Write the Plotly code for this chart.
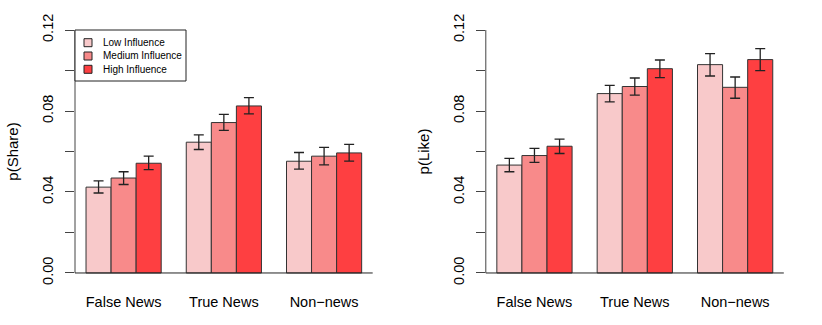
import plotly.graph_objects as go

W, H = 822, 325

categories = ["False News", "True News", "Non\u2212news"]
series_names = ["Low Influence", "Medium Influence", "High Influence"]
series_colors = ["#F8C9CA", "#F88A8A", "#FE3F41"]

# p(Share)
share_values = {
    "Low Influence": [0.0424, 0.0646, 0.0552],
    "Medium Influence": [0.0469, 0.0743, 0.0577],
    "High Influence": [0.0542, 0.0825, 0.0593],
}
share_upper = {
    "Low Influence": [0.0455, 0.0682, 0.0595],
    "Medium Influence": [0.0500, 0.0783, 0.0620],
    "High Influence": [0.0577, 0.0866, 0.0635],
}
share_lower = {
    "Low Influence": [0.0395, 0.0610, 0.0513],
    "Medium Influence": [0.0437, 0.0704, 0.0534],
    "High Influence": [0.0510, 0.0786, 0.0552],
}

# p(Like)
like_values = {
    "Low Influence": [0.0533, 0.0886, 0.1029],
    "Medium Influence": [0.0580, 0.0921, 0.0917],
    "High Influence": [0.0626, 0.1009, 0.1054],
}
like_upper = {
    "Low Influence": [0.0566, 0.0927, 0.1083],
    "Medium Influence": [0.0615, 0.0963, 0.0968],
    "High Influence": [0.0661, 0.1052, 0.1108],
}
like_lower = {
    "Low Influence": [0.0500, 0.0845, 0.0973],
    "Medium Influence": [0.0546, 0.0878, 0.0863],
    "High Influence": [0.0590, 0.0965, 0.0999],
}

y_tickvals = [0.0, 0.02, 0.04, 0.06, 0.08, 0.10, 0.12]
y_ticktext = ["0.00", "", "0.04", "", "0.08", "", "0.12"]

FONT = "Liberation Sans, Arial, Helvetica, sans-serif"


def px_x(p):
    return p / W


def px_y(p):
    return 1 - p / H


fig = go.Figure()

panels = [
    ("x", "y", share_values, share_upper, share_lower),
    ("x2", "y2", like_values, like_upper, like_lower),
]
for xa, ya, vals, up, lo in panels:
    for name, color in zip(series_names, series_colors):
        v = vals[name]
        fig.add_trace(go.Bar(
            x=categories, y=v, name=name, xaxis=xa, yaxis=ya,
            marker=dict(color=color, line=dict(color="#333333", width=1)),
            error_y=dict(type="data", symmetric=False,
                         array=[u - m for u, m in zip(up[name], v)],
                         arrayminus=[m - l for m, l in zip(v, lo[name])],
                         color="#222222", thickness=1.3, width=5),
            showlegend=False,
        ))

ydom = [px_y(282.7), px_y(20.3)]
yrange = [-0.0048, 0.1248]
xrange = [-0.485, 2.485]

xcommon = dict(type="category", range=xrange, showline=False, showgrid=False,
               zeroline=False, ticks="", automargin=False, ticklabelstandoff=9,
               tickfont=dict(size=14.5, color="black", family=FONT))
ycommon = dict(range=yrange, domain=ydom, showline=False, showgrid=False, zeroline=False,
               tickvals=y_tickvals, ticktext=y_ticktext, tickangle=-90, automargin=False,
               ticks="outside", ticklen=9, tickcolor="#444444", tickwidth=1,
               ticklabelstandoff=6,
               tickfont=dict(size=14.5, color="black", family=FONT))

fig.update_layout(
    width=W, height=H,
    margin=dict(l=0, r=0, t=0, b=0, autoexpand=False),
    paper_bgcolor="white", plot_bgcolor="white",
    font=dict(family=FONT, color="black"),
    barmode="group", bargap=0.25, bargroupgap=0,
    xaxis=dict(domain=[px_x(75), px_x(372.7)], anchor="y", **xcommon),
    xaxis2=dict(domain=[px_x(485.8), px_x(783.8)], anchor="y2", **xcommon),
    yaxis=dict(anchor="x", title=dict(text="p(Share)", font=dict(size=15), standoff=17), **ycommon),
    yaxis2=dict(anchor="x2", title=dict(text="p(Like)", font=dict(size=15), standoff=17), **ycommon),
)

shapes = []
for xa, ya in [("x", "y"), ("x2", "y2")]:
    # R-style y axis line spanning only the tick range
    shapes.append(dict(type="line", xref=f"{xa} domain", yref=ya, x0=0, x1=0,
                       y0=y_tickvals[0], y1=y_tickvals[-1],
                       line=dict(color="#444444", width=1)))
    # baseline at zero
    shapes.append(dict(type="line", xref=f"{xa} domain", yref=ya, x0=0, x1=1,
                       y0=0, y1=0, line=dict(color="#222222", width=1)))

# legend box (top-left of the left panel)
shapes.append(dict(type="rect", xref="paper", yref="paper",
                   x0=px_x(75), x1=px_x(186), y0=px_y(81), y1=px_y(30),
                   line=dict(color="#222222", width=1), fillcolor="white", layer="above"))
annotations = []
row_y = [42.7, 56.0, 69.3]
for name, color, ry in zip(series_names, series_colors, row_y):
    shapes.append(dict(type="rect", xref="paper", yref="paper",
                       x0=px_x(84), x1=px_x(92), y0=px_y(ry + 4), y1=px_y(ry - 4),
                       line=dict(color="#222222", width=1), fillcolor=color, layer="above"))
    annotations.append(dict(text=name, xref="paper", yref="paper",
                            x=px_x(101), y=px_y(ry), xanchor="left", yanchor="middle",
                            showarrow=False, font=dict(size=10, color="black", family=FONT)))

fig.update_layout(shapes=shapes, annotations=annotations)

fig.write_html("out.html", config={"displayModeBar": False},
               post_script="document.body.style.margin='0';document.body.style.overflow='hidden';")
